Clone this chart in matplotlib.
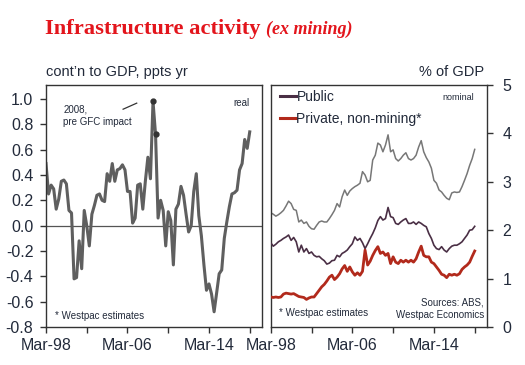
import matplotlib
matplotlib.use("Agg")
import matplotlib.pyplot as plt
import numpy as np
import pandas as pd

# ---------------- data ----------------
dates = pd.date_range("1998-03-01", periods=81, freq="3MS")

real_contrib = [0.49, 0.25, 0.32, 0.29, 0.13, 0.21, 0.35, 0.36, 0.33, 0.12,
                0.10, -0.42, -0.41, -0.12, -0.34, 0.12, 0.00, -0.16, 0.09, 0.16,
                0.24, 0.25, 0.20, 0.19, 0.41, 0.35, 0.49, 0.35, 0.44, 0.45,
                0.48, 0.44, 0.27, 0.27, 0.02, 0.06, 0.32, 0.33, 0.13, 0.35,
                0.54, 0.37, 0.98, 0.72, 0.06, 0.20, 0.12, -0.16, 0.11, 0.04,
                -0.31, 0.13, 0.17, 0.31, 0.24, 0.09, -0.05, 0.00, 0.27, 0.41,
                0.08, -0.08, -0.31, -0.51, -0.46, -0.54, -0.68, -0.53, -0.38, -0.35,
                -0.10, 0.03, 0.15, 0.25, 0.26, 0.28, 0.44, 0.49, 0.68, 0.61,
                0.74]

total_share = [2.36, 2.33, 2.29, 2.32, 2.36, 2.41, 2.50, 2.60, 2.55, 2.43,
               2.41, 2.17, 2.21, 2.14, 2.17, 2.08, 2.03, 2.02, 2.10, 2.17,
               2.19, 2.17, 2.17, 2.24, 2.32, 2.41, 2.55, 2.48, 2.69, 2.83,
               2.72, 2.81, 2.86, 2.90, 2.93, 2.97, 3.21, 3.14, 3.00, 3.03,
               3.45, 3.55, 3.80, 3.76, 3.62, 3.76, 3.97, 3.62, 3.66, 3.48,
               3.43, 3.48, 3.55, 3.60, 3.48, 3.45, 3.48, 3.55, 3.72, 3.85,
               3.62, 3.50, 3.41, 3.28, 3.03, 2.97, 2.83, 2.79, 2.72, 2.66,
               2.63, 2.77, 2.79, 2.78, 2.79, 2.90, 3.03, 3.17, 3.34, 3.48,
               3.67]

public_share = [1.74, 1.67, 1.71, 1.76, 1.79, 1.83, 1.86, 1.90, 1.79, 1.85,
                1.76, 1.55, 1.69, 1.55, 1.62, 1.52, 1.55, 1.48, 1.45, 1.46,
                1.41, 1.37, 1.30, 1.32, 1.37, 1.38, 1.48, 1.45, 1.52, 1.55,
                1.59, 1.66, 1.72, 1.86, 1.79, 1.83, 1.74, 1.62, 1.72, 1.83,
                1.93, 2.05, 2.20, 2.28, 2.21, 2.24, 2.47, 2.28, 2.26, 2.14,
                2.12, 2.17, 2.21, 2.24, 2.14, 2.14, 2.17, 2.12, 2.17, 2.14,
                2.10, 2.07, 1.93, 1.83, 1.69, 1.62, 1.60, 1.66, 1.59, 1.55,
                1.62, 1.67, 1.69, 1.69, 1.72, 1.76, 1.83, 1.90, 2.00, 2.01,
                2.08]

private_share = [0.62, 0.61, 0.62, 0.61, 0.62, 0.68, 0.70, 0.69, 0.68, 0.69,
                 0.66, 0.63, 0.62, 0.61, 0.57, 0.60, 0.62, 0.62, 0.69, 0.76,
                 0.83, 0.88, 0.95, 1.03, 1.07, 0.98, 1.03, 1.10, 1.20, 1.27,
                 1.15, 1.24, 1.14, 1.07, 1.12, 1.07, 1.15, 1.59, 1.28, 1.36,
                 1.48, 1.58, 1.66, 1.52, 1.55, 1.48, 1.52, 1.31, 1.45, 1.34,
                 1.31, 1.38, 1.34, 1.38, 1.34, 1.38, 1.34, 1.41, 1.55, 1.67,
                 1.48, 1.45, 1.45, 1.34, 1.31, 1.24, 1.17, 1.09, 1.07, 1.02,
                 1.09, 1.07, 1.09, 1.07, 1.10, 1.19, 1.24, 1.28, 1.34, 1.46,
                 1.57]

gfc_idx = [42, 43]
tick_years = [1998, 2002, 2006, 2010, 2014, 2018]
label_years = [1998, 2006, 2014]
left_yticks = [-0.8, -0.6, -0.4, -0.2, 0.0, 0.2, 0.4, 0.6, 0.8, 1.0]
left_yticklabels = ["-0.8", "-0.6", "-0.4", "-0.2", "0.0", "0.2", "0.4", "0.6", "0.8", "1.0"]
right_yticks = [0, 1, 2, 3, 4, 5]

# ---------------- style ----------------
plt.rcParams["font.family"] = ["Liberation Sans", "DejaVu Sans"]
TXT = "#222a3a"
FRAME = "#333333"

fig = plt.figure(figsize=(5.25, 3.65), dpi=100)
W, H = 525, 365

def axrect(x0, y0, x1, y1):
    return [x0 / W, 1 - y1 / H, (x1 - x0) / W, (y1 - y0) / H]

axL = fig.add_axes(axrect(46, 85, 262, 327))
axR = fig.add_axes(axrect(270.7, 85, 487, 327))

xmin = pd.Timestamp("1998-03-01")
xmax = pd.Timestamp("2019-05-15")
ticks = [pd.Timestamp(f"{y}-03-01") for y in tick_years]
ticklabels = [f"Mar-{str(y)[2:]}" if y in label_years else "" for y in tick_years]

for ax in (axL, axR):
    ax.set_xlim(xmin, xmax)
    ax.set_xticks(ticks)
    ax.set_xticklabels(ticklabels)
    for s in ax.spines.values():
        s.set_color(FRAME)
        s.set_linewidth(1.0)
    ax.tick_params(axis="both", direction="out", length=4, width=1.0,
                   color=FRAME, labelsize=11.5, labelcolor=TXT)
    ax.tick_params(axis="x", pad=4)

# ---- left panel ----
axL.axhline(0, color="#555555", lw=0.9, zorder=1)
axL.plot(dates, real_contrib, color="#5f5f5f", lw=2.2, zorder=2,
         solid_joinstyle="round")
axL.plot(dates[gfc_idx], [real_contrib[i] for i in gfc_idx], "o",
         color="#333333", ms=3.5, zorder=3)
axL.set_ylim(-0.8, 1.11)
axL.set_yticks(left_yticks)
axL.set_yticklabels(left_yticklabels)
axL.tick_params(axis="y", pad=5)
axL.text(0.0, 1.025, "cont\u2019n to GDP, ppts yr", transform=axL.transAxes,
         fontsize=10.5, color=TXT, ha="left", va="bottom")
axL.text(0.08, 0.92, "2008,\npre GFC impact", transform=axL.transAxes,
         fontsize=7, color=TXT, ha="left", va="top", linespacing=1.3)
axL.plot([0.357, 0.42], [0.90, 0.925], transform=axL.transAxes,
         color="#333333", lw=0.9)
axL.text(0.94, 0.925, "real", transform=axL.transAxes, fontsize=7,
         color=TXT, ha="right", va="center")
axL.text(0.04, 0.045, "* Westpac estimates", transform=axL.transAxes,
         fontsize=7, color=TXT, ha="left", va="center")

# ---- right panel ----
axR.plot(dates, total_share, color="#777777", lw=1.1, zorder=2)
axR.plot(dates, public_share, color="#4a2f45", lw=1.2, zorder=3,
         label="Public")
axR.plot(dates, private_share, color="#b22a1c", lw=2.0, zorder=4,
         label="Private, non-mining*")
axR.set_ylim(0, 5)
axR.set_yticks(right_yticks)
axR.yaxis.tick_right()
axR.tick_params(axis="y", pad=7, left=False, right=True)
axR.text(0.985, 1.025, "% of GDP", transform=axR.transAxes,
         fontsize=10.5, color=TXT, ha="right", va="bottom")
leg = axR.legend(loc="upper left", bbox_to_anchor=(0.0, 1.02), frameon=False,
                 fontsize=10, handlelength=1.1, handletextpad=0.05,
                 labelspacing=0.55, borderaxespad=0.3)
for t in leg.get_texts():
    t.set_color(TXT)
for l in leg.get_lines():
    l.set_linewidth(2.2)
axR.text(0.94, 0.948, "nominal", transform=axR.transAxes, fontsize=6.5,
         color=TXT, ha="right", va="center")
axR.text(0.04, 0.058, "* Westpac estimates", transform=axR.transAxes,
         fontsize=7, color=TXT, ha="left", va="center")
axR.text(0.985, 0.03, "Sources: ABS,\nWestpac Economics", transform=axR.transAxes,
         fontsize=7, color=TXT, ha="right", va="bottom", linespacing=1.25)

# ---- title ----
RED = "#e3151c"
t1 = fig.text(45 / W, 1 - 34 / H, "Infrastructure activity", fontsize=16.2,
              fontweight="bold", family="Liberation Serif", color=RED,
              ha="left", va="baseline")
fig.canvas.draw()
bb = t1.get_window_extent()
fig.text((bb.x1 + 5) / (W), 1 - 34 / H, "(ex mining)", fontsize=13,
         fontweight="bold", style="italic", family="Liberation Serif",
         color=RED, ha="left", va="baseline")

fig.savefig("out.png", dpi=100)
